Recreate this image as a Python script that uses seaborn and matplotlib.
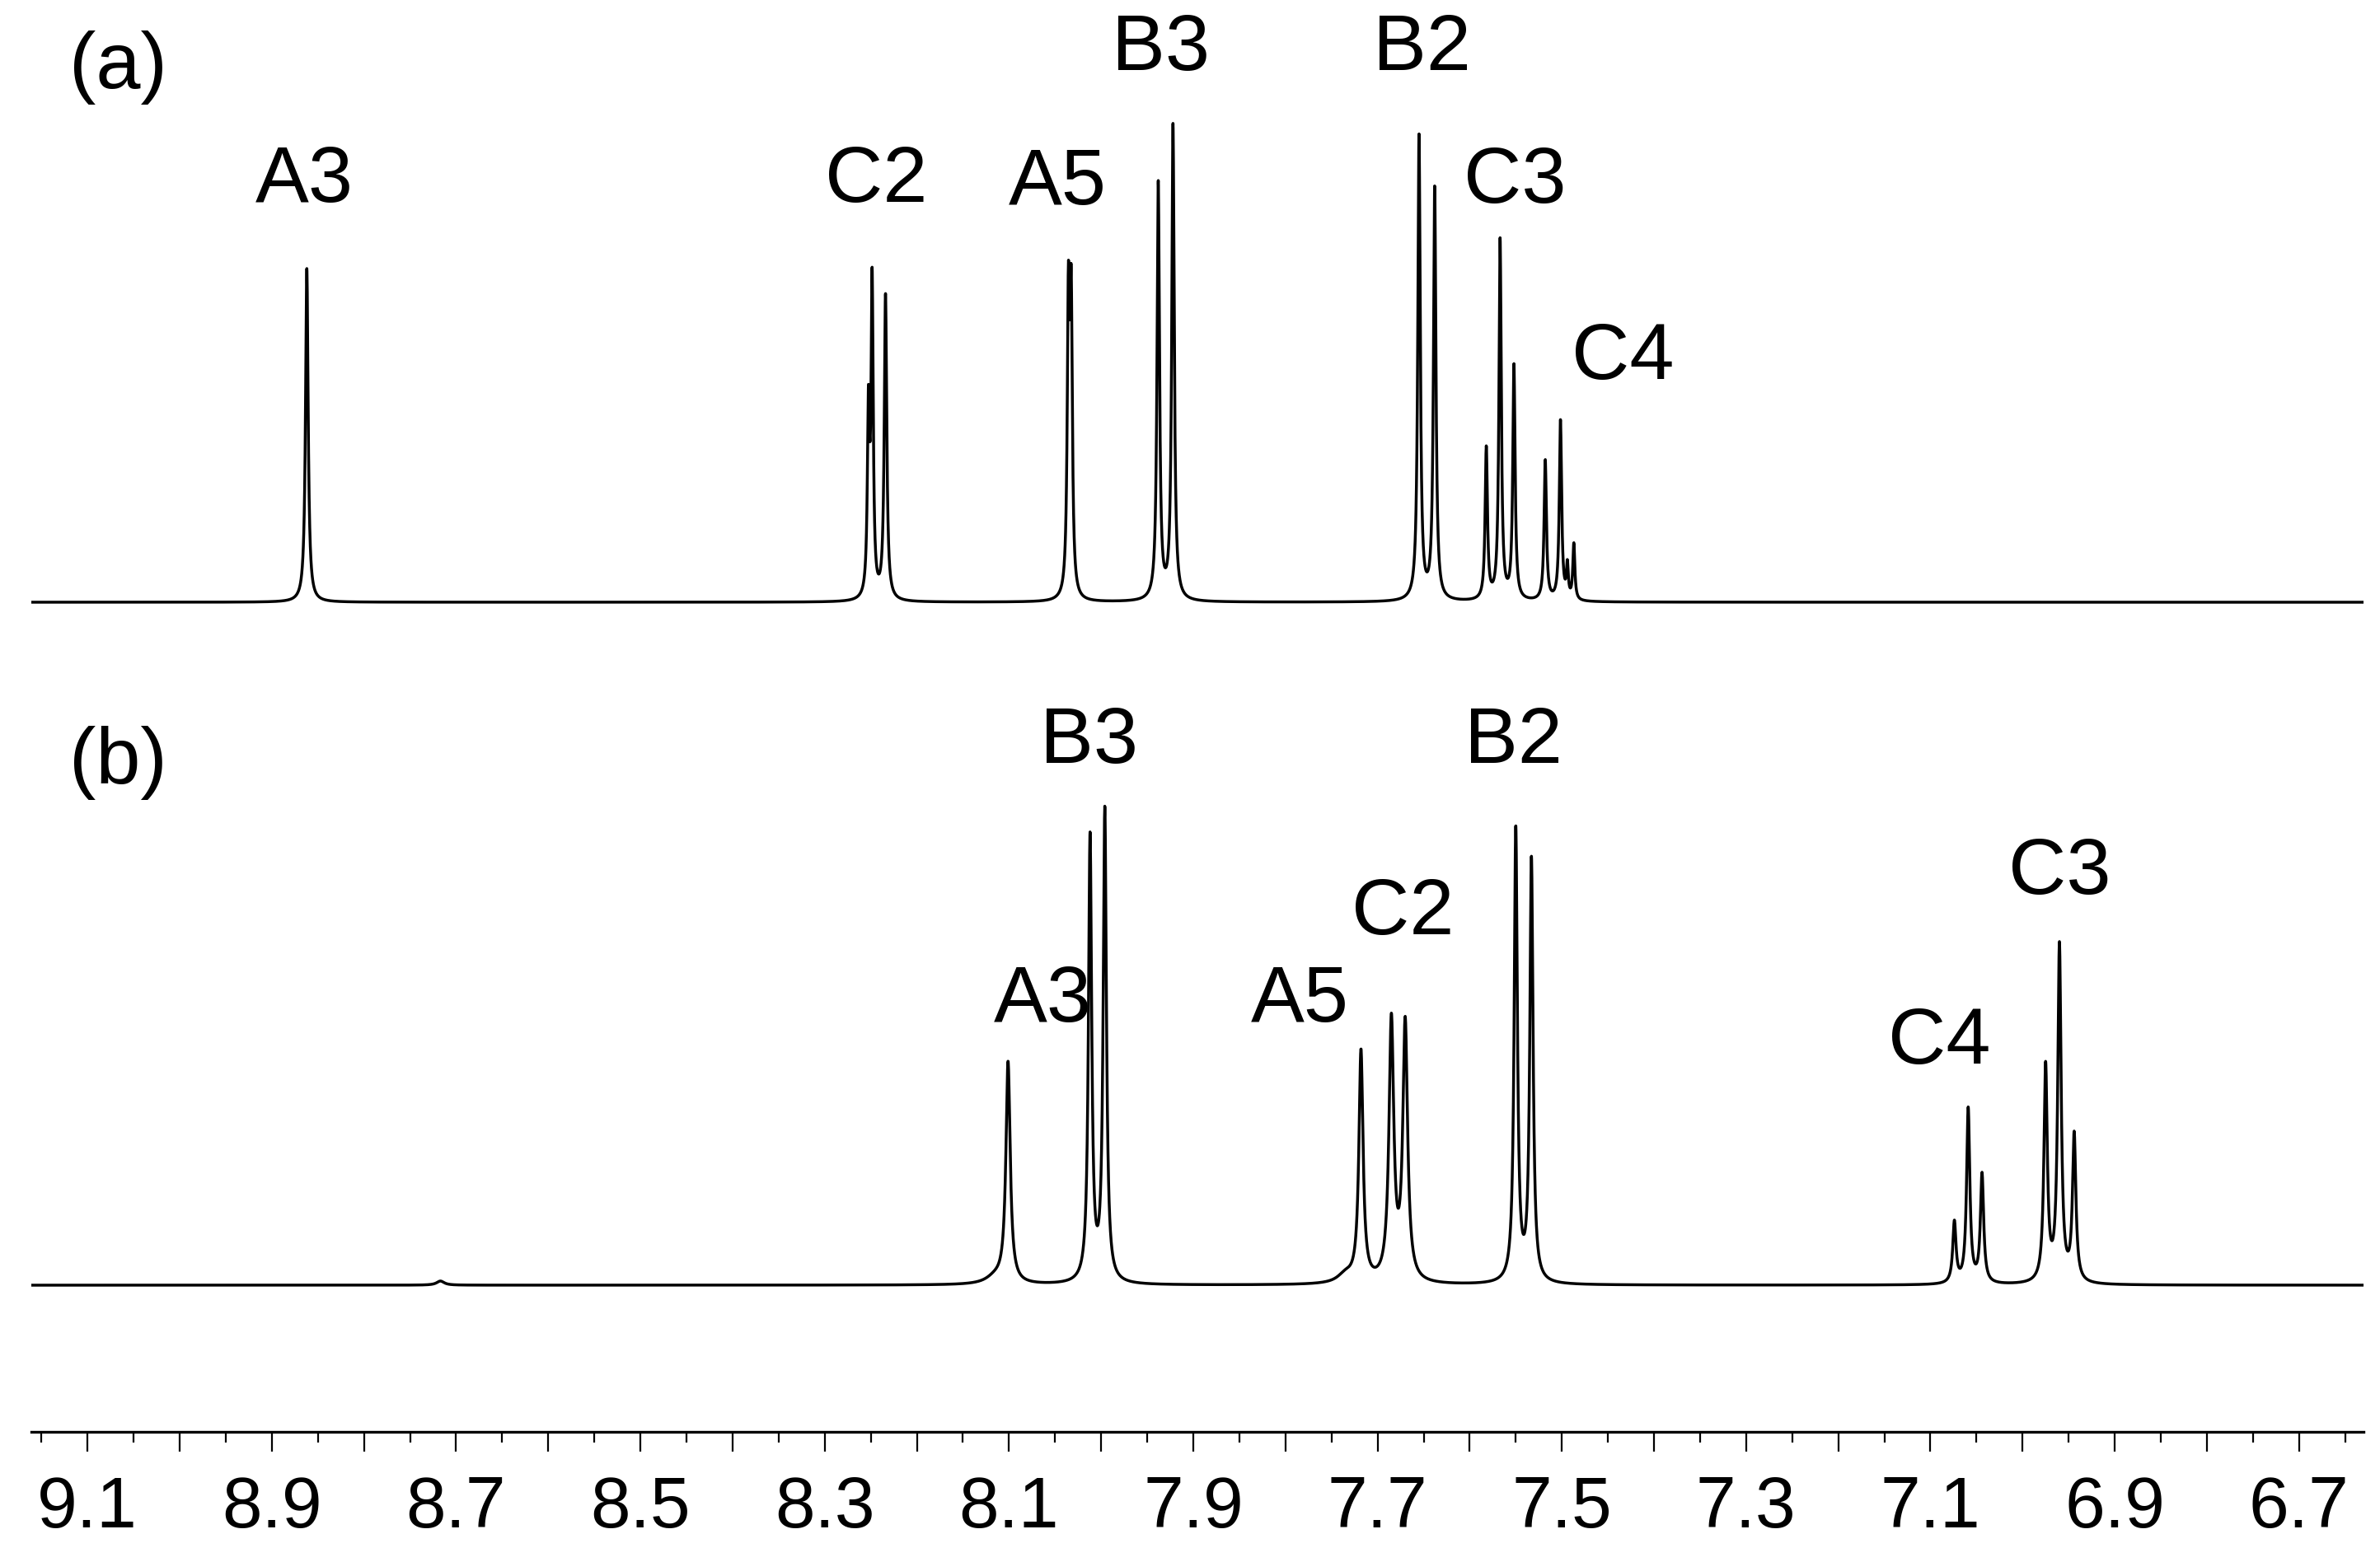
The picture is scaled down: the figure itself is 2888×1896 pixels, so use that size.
import numpy as np
import pandas as pd
import matplotlib.pyplot as plt
import seaborn as sns

# Peak lists (ppm, height above baseline, half width in ppm)
shift_a = [8.862, 8.2525, 8.2485, 8.234, 8.0355, 8.0325, 7.938, 7.922, 7.655, 7.638,
           7.582, 7.567, 7.552, 7.518, 7.5015, 7.494, 7.487]
height_a = [405, 220, 378, 370, 345, 340, 506, 576, 564, 500,
            184, 437, 284, 170, 218, 40, 68]
width_a = [0.0017, 0.0014, 0.0014, 0.0016, 0.0015, 0.0015, 0.0016, 0.0016, 0.0016, 0.0016,
           0.0015, 0.0015, 0.0015, 0.0015, 0.0015, 0.0012, 0.0013]

shift_b = [8.717, 8.115, 8.101, 8.012, 7.996, 7.735, 7.718, 7.685, 7.670, 7.550, 7.533,
           7.074, 7.059, 7.044, 6.975, 6.960, 6.944]
height_b = [5, 8, 268, 540, 572, 10, 280, 315, 312, 550, 512,
            74, 212, 132, 262, 408, 178]
width_b = [0.005, 0.012, 0.0028, 0.0021, 0.0021, 0.010, 0.0027, 0.0031, 0.0031, 0.0021, 0.0021,
           0.0021, 0.0021, 0.0021, 0.0022, 0.0022, 0.0022]

# peak assignments and where they are written
labels_a = ['A3', 'C2', 'A5', 'B3', 'B2', 'C3', 'C4']
label_x_a = [8.865, 8.244, 8.047, 7.935, 7.652, 7.551, 7.434]
label_y_a = [1518, 1518, 1515, 1678, 1678, 1517, 1303]

labels_b = ['B3', 'B2', 'A3', 'A5', 'C2', 'C4', 'C3']
label_x_b = [8.013, 7.553, 8.063, 7.784, 7.673, 7.090, 6.960]
label_y_b = [837, 837, 523, 523, 629, 472, 678]

tick_values = [9.1, 8.9, 8.7, 8.5, 8.3, 8.1, 7.9, 7.7, 7.5, 7.3, 7.1, 6.9, 6.7]
tick_labels = ['9.1', '8.9', '8.7', '8.5', '8.3', '8.1', '7.9', '7.7', '7.5', '7.3', '7.1', '6.9', '6.7']

x_left, x_right = 9.161, 6.630
offset_a, offset_b = 1007, 178


def spectrum(ppm, shifts, heights, widths):
    y = np.zeros_like(ppm)
    for s, h, w in zip(shifts, heights, widths):
        y += h / (1 + ((ppm - s) / w) ** 2)
    return y


ppm = np.linspace(x_left, x_right, 16000)
df = pd.DataFrame({
    'ppm': ppm,
    'a': offset_a + spectrum(ppm, shift_a, height_a, width_a),
    'b': offset_b + spectrum(ppm, shift_b, height_b, width_b),
})

sns.set_style('white')
plt.rcParams['font.family'] = ['Liberation Sans', 'DejaVu Sans']
plt.rcParams['text.color'] = 'black'
plt.rcParams['xtick.color'] = 'black'
plt.rcParams['axes.labelcolor'] = 'black'

fig = plt.figure(figsize=(28.88, 18.96), dpi=100)
ax = fig.add_axes([38 / 2888, 158 / 1896, 2830 / 2888, 1738 / 1896])

sns.lineplot(data=df, x='ppm', y='a', ax=ax, color='black', lw=2.5, estimator=None, sort=False)
sns.lineplot(data=df, x='ppm', y='b', ax=ax, color='black', lw=2.5, estimator=None, sort=False)

for txt, x, y in zip(labels_a, label_x_a, label_y_a):
    ax.text(x, y, txt, fontsize=70, ha='center', va='center', color='black')
for txt, x, y in zip(labels_b, label_x_b, label_y_b):
    ax.text(x, y, txt, fontsize=70, ha='center', va='center', color='black')
ax.text(9.067, 1656, '(a)', fontsize=70, ha='center', va='center', color='black')
ax.text(9.067, 812, '(b)', fontsize=70, ha='center', va='center', color='black')

ax.set_xlim(x_left, x_right)
ax.set_ylim(0, 1738)
ax.set_xlabel('')
ax.set_ylabel('')
ax.set_yticks([])

major = np.round(np.arange(6.7, 9.15, 0.1), 2)
ax.set_xticks(major)
ax.set_xticklabels([tick_labels[tick_values.index(m)] if m in tick_values else '' for m in major])
ax.set_xticks(np.round(np.arange(6.65, 9.2, 0.1), 2), minor=True)
ax.tick_params(axis='x', which='major', direction='out', length=17, width=1.6,
               labelsize=63, pad=21, bottom=True, colors='black')
ax.tick_params(axis='x', which='minor', direction='out', length=9, width=1.6, bottom=True,
               colors='black')

for side in ['top', 'left', 'right']:
    ax.spines[side].set_visible(False)
ax.spines['bottom'].set_linewidth(2.4)
ax.spines['bottom'].set_color('black')

fig.savefig('out.png', dpi=100, facecolor='white')
